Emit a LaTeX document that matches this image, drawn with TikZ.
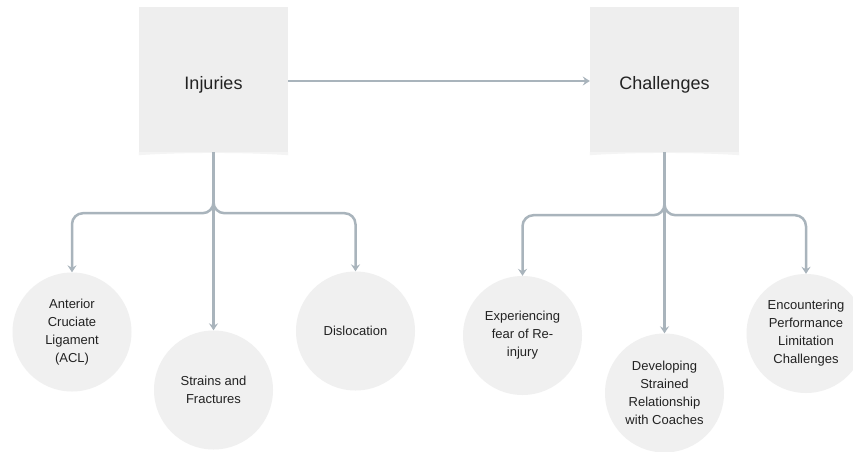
\documentclass[tikz,border=0pt]{standalone}
\usepackage{fontspec}
\setmainfont{Liberation Sans}
\usetikzlibrary{arrows.meta,calc}
\definecolor{boxfill}{HTML}{EEEEEE}
\definecolor{boxcurl}{HTML}{F4F4F4}
\definecolor{circfill}{HTML}{F0F0F0}
\definecolor{conncol}{HTML}{A9B4BC}
\definecolor{txtcol}{HTML}{222222}
\tikzset{
  mainbox/.style={rectangle, fill=boxfill, minimum width=149pt, minimum height=145pt, inner sep=0pt, text height=19pt, text depth=0pt, text=txtcol, font=\fontsize{18}{22}\selectfont},
  topic/.style={circle, fill=circfill, minimum size=119pt, inner sep=0pt, align=center, text=txtcol, font=\fontsize{13}{18}\selectfont},
  conn/.style={draw=conncol, line width=2.5pt, rounded corners=11pt, -{Stealth[length=7pt,width=9pt,inset=2.5pt]}},
}
\begin{document}
\begin{tikzpicture}[x=1pt,y=-1pt]
\useasboundingbox (0,0) rectangle (853,451);
\fill[white] (0,0) rectangle (853,451);
% boxes
\node[mainbox] (inj) at (213.5,79.5) {Injuries};
\node[mainbox] (chal) at (664.5,79.5) {Challenges};
\fill[boxcurl] (inj.south west) -- ++(0,3) .. controls +(40,-3) and +(-40,-3) .. ($(inj.south east)+(0,3)$) -- (inj.south east) -- cycle;
\fill[boxcurl] (chal.south west) -- ++(0,3) .. controls +(40,-3) and +(-40,-3) .. ($(chal.south east)+(0,3)$) -- (chal.south east) -- cycle;
% circles
\node[topic] (acl) at (72,332) {Anterior\\Cruciate\\Ligament\\(ACL)};
\node[topic] (str) at (213.5,390) {Strains and\\Fractures};
\node[topic] (dis) at (355.5,331) {Dislocation};
\node[topic] (exp) at (522.5,335.5) {Experiencing\\fear of Re-\\injury};
\node[topic] (dev) at (664.5,393) {Developing\\Strained\\Relationship\\with Coaches};
\node[topic] (enc) at (806,333.5) {Encountering\\Performance\\Limitation\\Challenges};
% connectors
\draw[conn] ([yshift=-1.5pt]inj.east) -- ([yshift=-1.5pt]chal.west);
\draw[conn] (inj.south) -- (str.north);
\draw[conn] (inj.south) -- ++(0,61) -| (acl.north);
\draw[conn] (inj.south) -- ++(0,61) -| (dis.north);
\draw[conn] (chal.south) -- (dev.north);
\draw[conn] (chal.south) -- ++(0,63) -| (exp.north);
\draw[conn] (chal.south) -- ++(0,63) -| (enc.north);
\end{tikzpicture}
\end{document}
